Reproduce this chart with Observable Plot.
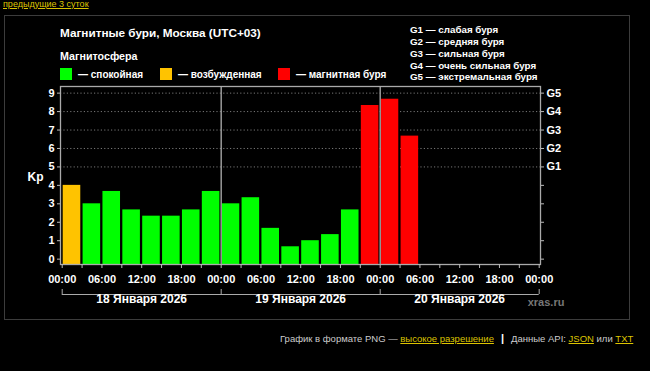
<!DOCTYPE html>
<html>
<head>
<meta charset="utf-8">
<script src="https://cdn.jsdelivr.net/npm/d3@7"></script>
<script src="https://cdn.jsdelivr.net/npm/@observablehq/plot@0.6"></script>
<style>
  html, body { margin: 0; padding: 0; background: #000; }
  #wrap { position: relative; width: 650px; height: 371px; overflow: hidden; background: #000;
          font-family: "Liberation Sans", Arial, Helvetica, sans-serif; color: #fff; }
  .abs { position: absolute; white-space: nowrap; line-height: 1; }
  .b { font-weight: bold; }
  a, .lnk { color: #ddc400; text-decoration: underline; }
  .sw { position: absolute; width: 12px; height: 11.5px; }
  #chart { position: absolute; left: 0; top: 0; }
</style>
</head>
<body>
<div id="wrap">
  <div class="abs lnk" style="left:3px; top:-0.5px; font-size:9px;">предыдущие 3 суток</div>
  <div class="abs" style="left:4px; top:15px; width:626px; height:305px; box-sizing:border-box; border:1px solid #3c3c3c;"></div>
  <div id="chart"></div>
  <div id="title" class="abs b" style="left:60px; top:27px; font-size:11.75px;"></div>
  <div id="subtitle" class="abs b" style="left:60px; top:50.6px; font-size:10.7px;"></div>
  <div id="legend"></div>
  <div id="glegend" class="abs b" style="left:410px; top:24.3px; font-size:9.8px; line-height:11.8px;"></div>
  <div class="abs b" style="left:527.7px; top:297.4px; font-size:11px; color:#777;">xras.ru</div>
  <div class="abs" style="left:280px; top:332.5px; font-size:9.5px; color:#ccc;">График в формате PNG — <span class="lnk">высокое разрешение</span><span style="display:inline-block; margin:0 7px; color:#fff; font-weight:bold; font-size:11px;">|</span>Данные API: <span class="lnk">JSON</span> или <span class="lnk">TXT</span></div>
</div>
<script>
// ---------- data ----------
const titleText = "Магнитные бури, Москва (UTC+03)";
const subtitleText = "Магнитосфера";
const days = ["18 Января 2026", "19 Января 2026", "20 Января 2026"];
const kp = [4.00, 3.00, 3.67, 2.67, 2.33, 2.33, 2.67, 3.67,
            3.00, 3.33, 1.67, 0.67, 1.00, 1.33, 2.67, 8.33,
            8.67, 6.67];
const stateNames = ["спокойная", "возбужденная", "магнитная буря"];
const stateColors = ["#00ff00", "#ffc300", "#ff0000"];
const gLevels = ["G1", "G2", "G3", "G4", "G5"];
const gNames = ["слабая буря", "средняя буря", "сильная буря", "очень сильная буря", "экстремальная буря"];
const timeLabels = ["00:00", "06:00", "12:00", "18:00"];
const yTicks = [0, 1, 2, 3, 4, 5, 6, 7, 8, 9];
const gTicks = [5, 6, 7, 8, 9];
const hoursPerBar = 3;
const totalHours = 72;
const yDomain = [-0.29, 9.36];

// ---------- derived ----------
const state = v => v >= 5 ? stateNames[2] : v >= 4 ? stateNames[1] : stateNames[0];
const bars = kp.map((v, i) => ({start: i * hoursPerBar, end: (i + 1) * hoursPerBar, kp: v, state: state(v)}));
const xTicks = d3.range(0, totalHours + 1, hoursPerBar);
const dayBounds = d3.range(0, totalHours + 1, 24);
const dayData = days.map((d, i) => ({label: d, mid: i * 24 + 12}));

document.getElementById("title").textContent = titleText;
document.getElementById("subtitle").textContent = subtitleText;

const legend = document.getElementById("legend");
const swX = [60, 160, 278];
stateNames.forEach((n, i) => {
  const s = document.createElement("div");
  s.className = "sw";
  s.style.left = swX[i] + "px"; s.style.top = "68px"; s.style.background = stateColors[i];
  legend.appendChild(s);
  const t = document.createElement("div");
  t.className = "abs b";
  t.style.left = (swX[i] + 18) + "px"; t.style.top = "69.8px"; t.style.fontSize = "10px";
  t.textContent = "— " + n;
  legend.appendChild(t);
});
document.getElementById("glegend").innerHTML = gLevels.map((g, i) => g + " — " + gNames[i]).join("<br>");

const chart = Plot.plot({
  width: 650, height: 371,
  marginLeft: 60, marginRight: 110, marginTop: 86, marginBottom: 107,
  style: {background: "transparent", color: "#fff", fontFamily: "'Liberation Sans', Arial, sans-serif",
          fontSize: "11px", fontWeight: "bold", overflow: "visible"},
  x: {domain: [0, totalHours], insetLeft: 1.7, insetRight: 1.3},
  y: {domain: yDomain},
  color: {domain: stateNames, range: stateColors},
  marks: [
    Plot.ruleY(gTicks, {stroke: "#777", strokeDasharray: "1.2,2.2", strokeWidth: 1}),
    Plot.rect(bars, {x1: "start", x2: "end", y1: yDomain[0], y2: "kp", fill: "state", insetLeft: 1, insetRight: 1.3}),
    Plot.ruleX(dayBounds.slice(1, -1), {stroke: "#999", strokeWidth: 1.5}),
    Plot.frame({stroke: "#aaa", strokeWidth: 1.3}),
    Plot.axisY(yTicks, {anchor: "left", tickSize: 3, tickPadding: 3, label: null, stroke: "#bbb", fill: "#fff"}),
    Plot.axisY(yTicks, {anchor: "right", tickSize: 3, tickPadding: 3, label: null, stroke: "#bbb", fill: "#fff",
      tickFormat: d => d >= 5 ? gLevels[d - 5] : ""}),
    Plot.axisX(xTicks, {anchor: "bottom", tickSize: 4, tickPadding: 7, label: null, stroke: "#bbb", fill: "#fff",
      tickFormat: d => d % 6 ? "" : timeLabels[(d % 24) / 6]}),
    Plot.axisX(dayBounds, {anchor: "bottom", tickSize: 5, dy: 25, label: null, stroke: "#aaa", tickFormat: () => ""}),
    Plot.ruleY([yDomain[0]], {x1: 0, x2: totalHours, dy: 30, stroke: "#aaa"}),
    Plot.text(dayData, {x: "mid", text: "label", frameAnchor: "bottom", dy: 38.5, fill: "#fff", fontSize: 12, fontWeight: "bold"}),
    Plot.text(["Kp"], {text: d => d, frameAnchor: "left", textAnchor: "middle", dx: -25, dy: 2, fill: "#fff", fontSize: 12, fontWeight: "bold"})
  ]
});
document.getElementById("chart").appendChild(chart);
</script>
</body>
</html>
